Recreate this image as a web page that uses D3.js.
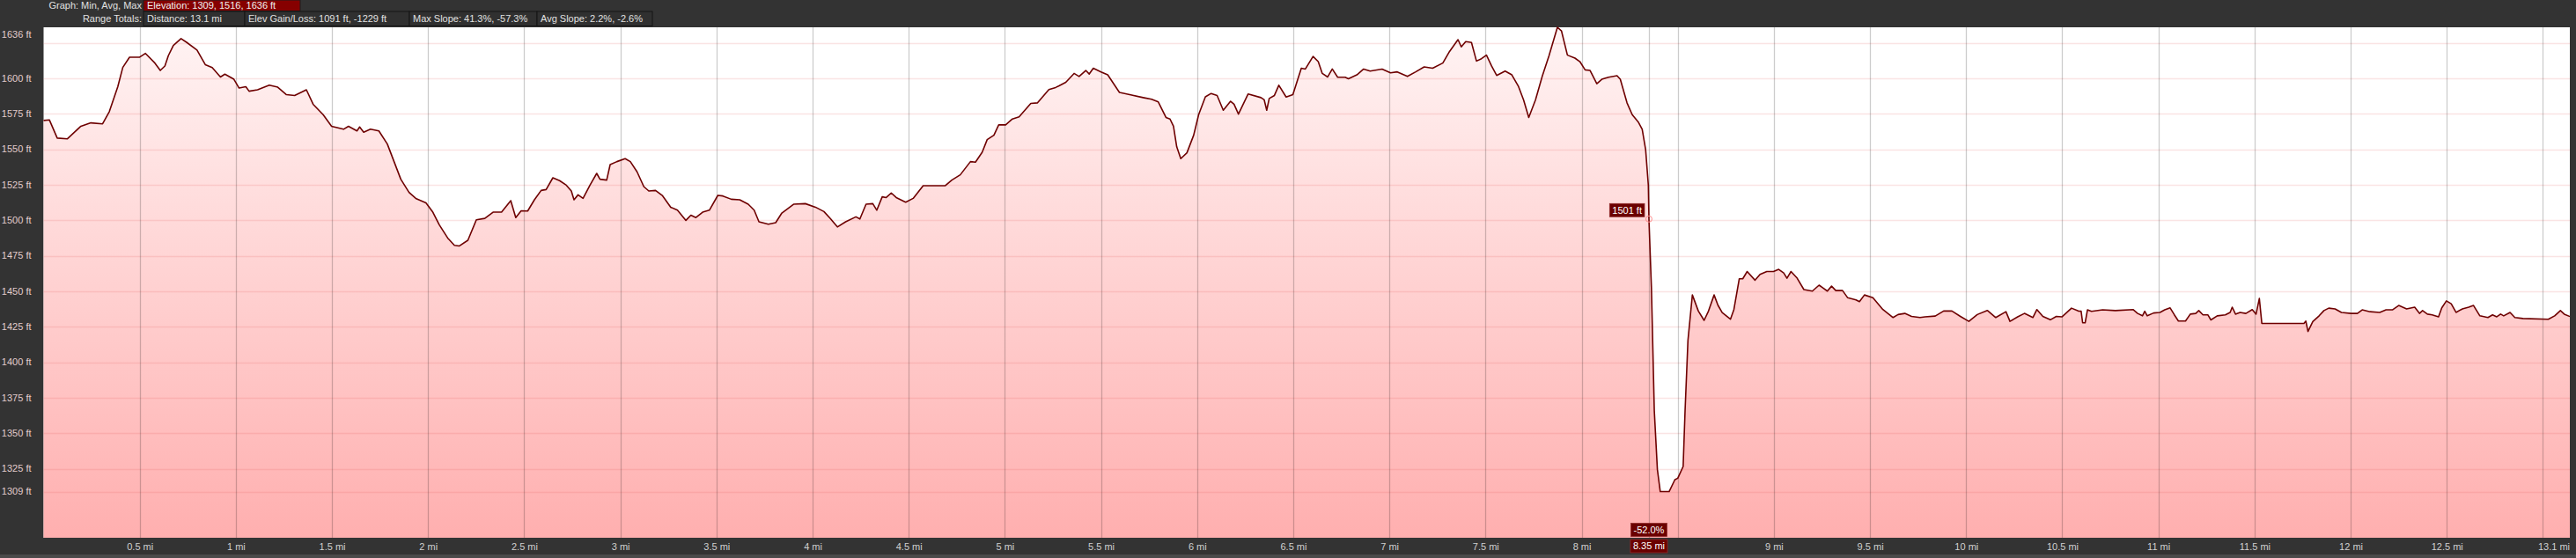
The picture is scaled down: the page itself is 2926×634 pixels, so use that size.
<!DOCTYPE html>
<html>
<head>
<meta charset="utf-8">
<script src="https://cdn.jsdelivr.net/npm/d3@7/dist/d3.min.js"></script>
<style>
  body { margin: 0; background: #333333; overflow: hidden; }
  svg text { font-family: "Liberation Sans", Arial, sans-serif; }
</style>
</head>
<body>
<div id="chart"></div>
<script>
// distance along the route (mi)
var distances = [
  0, 0.03, 0.071, 0.123, 0.194, 0.246, 0.307, 0.342, 0.386, 0.412, 0.447, 0.5, 0.53, 0.579, 0.607, 0.631, 0.649, 0.675, 0.715, 0.745,
  0.798, 0.841, 0.877, 0.92, 0.943, 0.99, 1.017, 1.052, 1.069, 1.113, 1.174, 1.218, 1.262, 1.306, 1.367, 1.402, 1.454, 1.498, 1.56, 1.586,
  1.63, 1.644, 1.665, 1.7, 1.744, 1.788, 1.823, 1.858, 1.901, 1.936, 1.989, 2.023, 2.058, 2.102, 2.137, 2.163, 2.207, 2.251, 2.295, 2.338,
  2.382, 2.43, 2.456, 2.484, 2.518, 2.553, 2.588, 2.614, 2.649, 2.684, 2.719, 2.745, 2.759, 2.78, 2.806, 2.842, 2.877, 2.894, 2.929, 2.947,
  2.982, 3.025, 3.052, 3.087, 3.122, 3.148, 3.183, 3.218, 3.262, 3.297, 3.341, 3.367, 3.393, 3.428, 3.463, 3.507, 3.533, 3.577, 3.621, 3.665,
  3.696, 3.721, 3.77, 3.808, 3.84, 3.901, 3.962, 4.015, 4.059, 4.094, 4.129, 4.172, 4.225, 4.246, 4.278, 4.313, 4.334, 4.362, 4.383, 4.409,
  4.435, 4.484, 4.523, 4.575, 4.689, 4.724, 4.768, 4.821, 4.847, 4.882, 4.908, 4.943, 4.968, 5.004, 5.039, 5.074, 5.135, 5.17, 5.229, 5.264,
  5.282, 5.317, 5.36, 5.386, 5.421, 5.439, 5.46, 5.5, 5.535, 5.596, 5.649, 5.719, 5.763, 5.798, 5.838, 5.859, 5.877, 5.894, 5.915, 5.947,
  5.982, 6.008, 6.043, 6.073, 6.104, 6.136, 6.174, 6.192, 6.215, 6.265, 6.332, 6.349, 6.362, 6.375, 6.402, 6.425, 6.463, 6.498, 6.542, 6.563,
  6.603, 6.63, 6.651, 6.679, 6.703, 6.731, 6.77, 6.787, 6.831, 6.866, 6.9, 6.962, 7.006, 7.041, 7.094, 7.137, 7.181, 7.225, 7.278, 7.313,
  7.357, 7.374, 7.397, 7.427, 7.453, 7.479, 7.505, 7.532, 7.558, 7.602, 7.637, 7.672, 7.698, 7.725, 7.76, 7.795, 7.83, 7.874, 7.895, 7.926,
  7.965, 7.991, 8.018, 8.044, 8.079, 8.105, 8.14, 8.184, 8.201, 8.236, 8.263, 8.294, 8.315, 8.333, 8.347, 8.35, 8.363, 8.378, 8.394, 8.409,
  8.455, 8.485, 8.5, 8.528, 8.538, 8.553, 8.576, 8.607, 8.637, 8.66, 8.689, 8.709, 8.731, 8.774, 8.792, 8.82, 8.838, 8.861, 8.902, 8.928,
  8.963, 8.998, 9.025, 9.051, 9.068, 9.089, 9.121, 9.156, 9.2, 9.235, 9.252, 9.278, 9.3, 9.322, 9.357, 9.384, 9.427, 9.445, 9.471, 9.515,
  9.567, 9.62, 9.646, 9.681, 9.716, 9.76, 9.786, 9.839, 9.883, 9.926, 9.97, 10.014, 10.058, 10.11, 10.154, 10.207, 10.228, 10.268, 10.303, 10.347,
  10.368, 10.399, 10.438, 10.469, 10.499, 10.548, 10.583, 10.598, 10.606, 10.619, 10.631, 10.652, 10.71, 10.776, 10.868, 10.892, 10.917, 10.929, 10.942, 10.975,
  11.008, 11.033, 11.061, 11.083, 11.104, 11.141, 11.166, 11.194, 11.21, 11.232, 11.257, 11.273, 11.306, 11.348, 11.373, 11.384, 11.401, 11.425, 11.455, 11.488,
  11.508, 11.525, 11.538, 11.757, 11.767, 11.778, 11.803, 11.836, 11.861, 11.886, 11.919, 11.952, 12.002, 12.035, 12.06, 12.101, 12.151, 12.184, 12.217, 12.25,
  12.291, 12.333, 12.358, 12.374, 12.399, 12.424, 12.457, 12.474, 12.498, 12.523, 12.548, 12.581, 12.614, 12.639, 12.672, 12.714, 12.738, 12.76, 12.78, 12.796,
  12.829, 12.854, 12.896, 13.028, 13.061, 13.091, 13.111, 13.14
];

// elevation (ft)
var elevations = [
  1570.4, 1570.8, 1558, 1557.4, 1566.3, 1568.7, 1568, 1576.6, 1594.2, 1607.7, 1614.9, 1615, 1617.6, 1610.8, 1605.6, 1608.7, 1616, 1623.2, 1628, 1625.3,
  1620, 1609.7, 1607.7, 1601, 1603, 1599.4, 1593.2, 1594.2, 1591, 1592, 1595.2, 1593.8, 1588.6, 1588, 1592, 1581.8, 1574.5, 1566.3, 1564.2, 1566.3,
  1563, 1565.8, 1562.1, 1564.2, 1563, 1553.8, 1541.4, 1529, 1519.7, 1515.5, 1512.4, 1506.2, 1496.9, 1487.6, 1482.4, 1482, 1486, 1500.4, 1501.4, 1505.8,
  1505.8, 1513.9, 1502, 1506.8, 1506.6, 1514.5, 1521.1, 1521.7, 1530, 1528, 1524.8, 1520.7, 1514.5, 1518, 1515.5, 1524.8, 1533.1, 1529, 1528.4, 1539.3,
  1541.4, 1543.5, 1541.4, 1534.2, 1523.8, 1520.7, 1521.1, 1517.6, 1509.3, 1507.2, 1500, 1503.7, 1502, 1505.8, 1507.2, 1517.6, 1517.2, 1514.9, 1514.5, 1511.4,
  1507.2, 1499, 1497.3, 1498.4, 1505.2, 1511.4, 1511.8, 1509.3, 1506.2, 1501, 1495.4, 1499, 1502.5, 1501, 1511.4, 1511.8, 1507.2, 1516.6, 1516.1, 1519.3,
  1516.1, 1512.8, 1515.5, 1524.4, 1524.4, 1528.4, 1532.1, 1541.4, 1541, 1548, 1556.9, 1560, 1567.3, 1567.3, 1571.4, 1572.9, 1582.4, 1582.8, 1592.1, 1593.6,
  1594.8, 1597.3, 1603.5, 1601.4, 1605.6, 1603.1, 1607.2, 1604.6, 1602.5, 1590.1, 1588.6, 1586.5, 1585.3, 1583.4, 1572.5, 1571.4, 1566.3, 1551.8, 1543.5, 1547.6,
  1560, 1574.5, 1587, 1589.4, 1588, 1577.6, 1583.9, 1581.8, 1574.9, 1589, 1586.5, 1584.9, 1577.6, 1585.9, 1588, 1595.2, 1586.9, 1588.6, 1607.2, 1606.6,
  1615.5, 1611.8, 1603.5, 1601, 1606.6, 1600.8, 1600.8, 1599.8, 1602.5, 1606.6, 1605.2, 1606.6, 1603.9, 1604.6, 1601.4, 1604.6, 1608.1, 1607.2, 1610.8, 1619,
  1627.3, 1622.2, 1625.9, 1625.3, 1612.2, 1613.9, 1616.4, 1608.7, 1602.1, 1605.2, 1602.5, 1594.2, 1584.9, 1572.5, 1584.9, 1601.4, 1615.9, 1636, 1633.5, 1616.4,
  1614.3, 1611.8, 1606, 1605.6, 1596.3, 1599.4, 1600.8, 1601.9, 1599.4, 1582.8, 1574.5, 1569.4, 1564.2, 1549.7, 1524.8, 1501, 1452.7, 1365.9, 1324.6, 1309,
  1309, 1317.4, 1318.4, 1326.7, 1365.9, 1415.5, 1447.5, 1436.2, 1429.6, 1436.2, 1447.5, 1440.3, 1435.1, 1430.4, 1437.2, 1458.9, 1458.9, 1464, 1457.9, 1462,
  1464, 1464, 1465.5, 1463, 1459.3, 1464, 1459.3, 1451.3, 1450.2, 1454.4, 1452.7, 1450.2, 1453.7, 1450.6, 1450.6, 1445.5, 1444, 1442.8, 1447.5, 1445.5,
  1437.2, 1431.6, 1433.7, 1434.5, 1432.4, 1431.6, 1432.1, 1432.6, 1436.2, 1436.2, 1432.4, 1428.9, 1433.7, 1436.6, 1431.6, 1435.7, 1428.9, 1432.1, 1434.5, 1431.6,
  1437.2, 1432.4, 1430, 1432.4, 1432.1, 1438.2, 1436.2, 1436, 1427.9, 1427.9, 1437, 1436, 1437, 1436.5, 1437.2, 1434.5, 1432.8, 1436, 1432.8, 1434.8,
  1435.2, 1437, 1438.4, 1433.5, 1429.1, 1429.1, 1434, 1434.5, 1436.5, 1433.5, 1433.5, 1429.9, 1432.8, 1433.5, 1435.2, 1438.9, 1434, 1435.2, 1434.5, 1437.2,
  1434, 1445, 1427.4, 1427.4, 1429.1, 1421.8, 1428.7, 1432.8, 1436.5, 1438.2, 1437.7, 1435.2, 1434.5, 1434.5, 1437, 1435.7, 1435.2, 1437, 1437, 1440.1,
  1437.7, 1438.9, 1434.5, 1436.5, 1434, 1433.5, 1432.1, 1438.4, 1443.3, 1441.3, 1435.2, 1437.7, 1438.9, 1440.1, 1432.8, 1431.6, 1433.5, 1432.1, 1434, 1432.8,
  1435.2, 1431.6, 1430.9, 1430.4, 1432.8, 1436.5, 1434, 1432.3
];

// axis ticks
var yLabelValues = [1309, 1325, 1350, 1375, 1400, 1425, 1450, 1475, 1500, 1525, 1550, 1575, 1600, 1636];
var yGridValues = [1309, 1325, 1350, 1375, 1400, 1425, 1450, 1475, 1500, 1525, 1550, 1575, 1600, 1625];
var xGridValues = [0.5, 1, 1.5, 2, 2.5, 3, 3.5, 4, 4.5, 5, 5.5, 6, 6.5, 7, 7.5, 8, 8.5, 9, 9.5, 10, 10.5, 11, 11.5, 12, 12.5, 13];
var xLabelValues = [0.5, 1, 1.5, 2, 2.5, 3, 3.5, 4, 4.5, 5, 5.5, 6, 6.5, 7, 7.5, 8, 9, 9.5, 10, 10.5, 11, 11.5, 12, 12.5];
var yDomain = [1276.5, 1636];
var xDomain = [0, 13.14];
var totalLabel = "13.1 mi";

// header texts
var headerLabels = ["Graph: Min, Avg, Max", "Range Totals:"];
var elevationSummary = "Elevation: 1309, 1516, 1636 ft";
var rangeTotals = ["Distance: 13.1 mi", "Elev Gain/Loss: 1091 ft, -1229 ft", "Max Slope: 41.3%, -57.3%", "Avg Slope: 2.2%, -2.6%"];

// cursor readout
var cursorMile = 8.35;
var cursorElev = 1501;
var cursorSlope = "-52.0%";

var svgWidth = 2926;
var svgHeight = 634;
var plot = { left: 49.5, right: 2919, top: 31, bottom: 611 };

var svg = d3.select("#chart").append("svg")
  .attr("width", svgWidth)
  .attr("height", svgHeight);

svg.append("rect").attr("width", svgWidth).attr("height", svgHeight).attr("fill", "#333333");
// lighter strip at the very bottom
svg.append("rect").attr("x", 0).attr("y", 630).attr("width", svgWidth).attr("height", 4).attr("fill", "#4a4a4a");

var x = d3.scaleLinear().domain(xDomain).range([plot.left, plot.right]);
var y = d3.scaleLinear().domain(yDomain).range([plot.bottom, plot.top]);

var data = distances.map(function (d, i) { return { mi: d, ft: elevations[i] }; });

// gradient for the area
var defs = svg.append("defs");
var grad = defs.append("linearGradient")
  .attr("id", "elevFill")
  .attr("gradientUnits", "userSpaceOnUse")
  .attr("x1", 0).attr("x2", 0)
  .attr("y1", plot.top).attr("y2", plot.bottom);
grad.append("stop").attr("offset", "0%").attr("stop-color", "#fff4f4");
grad.append("stop").attr("offset", "100%").attr("stop-color", "#ffafaf");

// plot background
svg.append("rect")
  .attr("x", plot.left).attr("y", plot.top)
  .attr("width", plot.right - plot.left).attr("height", plot.bottom - plot.top)
  .attr("fill", "#ffffff");

var area = d3.area()
  .x(function (d) { return x(d.mi); })
  .y0(plot.bottom)
  .y1(function (d) { return y(d.ft); });

svg.append("path").datum(data).attr("d", area).attr("fill", "url(#elevFill)");

// horizontal grid
svg.append("g").selectAll("line")
  .data(yGridValues)
  .enter().append("line")
  .attr("x1", plot.left).attr("x2", plot.right)
  .attr("y1", function (d) { return Math.round(y(d)) + 0.5; })
  .attr("y2", function (d) { return Math.round(y(d)) + 0.5; })
  .attr("stroke", "rgba(225,90,90,0.16)")
  .attr("stroke-width", 1.5);

// vertical grid
svg.append("g").selectAll("line")
  .data(xGridValues.concat([cursorMile]))
  .enter().append("line")
  .attr("x1", function (d) { return Math.round(x(d)) + 0.5; })
  .attr("x2", function (d) { return Math.round(x(d)) + 0.5; })
  .attr("y1", plot.top).attr("y2", plot.bottom)
  .attr("stroke", "rgba(0,0,0,0.2)")
  .attr("stroke-width", 1.3);

// the profile line
var line = d3.line()
  .x(function (d) { return x(d.mi); })
  .y(function (d) { return y(d.ft); });

svg.append("path").datum(data)
  .attr("d", line)
  .attr("fill", "none")
  .attr("stroke", "#6e0000")
  .attr("stroke-width", 1.6)
  .attr("stroke-linejoin", "round");

// y axis labels
var yAxis = d3.axisLeft(y)
  .tickValues(yLabelValues)
  .tickSize(0)
  .tickPadding(14)
  .tickFormat(function (d) { return d + " ft"; });

var yAxisG = svg.append("g")
  .attr("transform", "translate(" + plot.left + ",0)")
  .call(yAxis);
yAxisG.select(".domain").remove();
yAxisG.selectAll("text")
  .attr("fill", "#e2cccc")
  .style("font-size", "11px")
  .style("font-family", "'Liberation Sans', Arial, sans-serif");
// keep the top label inside the frame
yAxisG.selectAll(".tick")
  .attr("transform", function (d) { return "translate(0," + Math.max(y(d), plot.top + 8) + ")"; });

// x axis labels
var xAxis = d3.axisBottom(x)
  .tickValues(xLabelValues)
  .tickSize(0)
  .tickFormat(function (d) { return d + " mi"; });

var xAxisG = svg.append("g")
  .attr("transform", "translate(0," + plot.bottom + ")")
  .call(xAxis);
xAxisG.select(".domain").remove();
xAxisG.selectAll("text")
  .attr("y", 10)
  .attr("dy", "0.35em")
  .attr("fill", "#d0d0d0")
  .style("font-size", "11px")
  .style("font-family", "'Liberation Sans', Arial, sans-serif");

svg.append("text")
  .attr("x", plot.right)
  .attr("y", plot.bottom + 10)
  .attr("dy", "0.35em")
  .attr("text-anchor", "end")
  .attr("fill", "#d0d0d0")
  .style("font-size", "11px")
  .text(totalLabel);

// cursor readout
var cx = x(cursorMile);
var cy = y(cursorElev);

svg.append("circle")
  .attr("cx", cx).attr("cy", cy).attr("r", 3.5)
  .attr("fill", "none")
  .attr("stroke", "#ff8a8a")
  .attr("stroke-width", 1);

function tag(text, anchorX, centerY, align) {
  var g = svg.append("g");
  var t = g.append("text")
    .attr("y", centerY)
    .attr("dy", "0.35em")
    .attr("fill", "#ffffff")
    .style("font-size", "11px")
    .text(text);
  var w = t.node().getComputedTextLength() + 6;
  var left = align === "end" ? anchorX - w : anchorX - w / 2;
  t.attr("x", left + 3);
  g.insert("rect", "text")
    .attr("x", left).attr("y", centerY - 7.5)
    .attr("width", w).attr("height", 15)
    .attr("fill", "#6b0000")
    .attr("stroke", "#8f2a2a")
    .attr("stroke-width", 0.8);
}

tag(cursorElev + " ft", cx - 5, cy - 10, "end");
tag(cursorSlope, cx, plot.bottom - 9, "middle");
tag(cursorMile + " mi", cx, plot.bottom + 9.5, "middle");

// header
var labelRight = 161;
var colEdges = [163, 278, 465, 610, 741];

svg.append("text")
  .attr("x", labelRight).attr("y", 6.5).attr("dy", "0.35em")
  .attr("text-anchor", "end").attr("fill", "#e0e0e0")
  .style("font-size", "11px")
  .text(headerLabels[0]);

svg.append("rect")
  .attr("x", colEdges[0]).attr("y", 0)
  .attr("width", 178).attr("height", 12.5)
  .attr("fill", "#860000")
  .attr("stroke", "#1e1e1e").attr("stroke-width", 1);

svg.append("text")
  .attr("x", colEdges[0] + 4).attr("y", 6.5).attr("dy", "0.35em")
  .attr("fill", "#f0f0f0")
  .style("font-size", "11px")
  .text(elevationSummary);

svg.append("text")
  .attr("x", labelRight).attr("y", 21.5).attr("dy", "0.35em")
  .attr("text-anchor", "end").attr("fill", "#e0e0e0")
  .style("font-size", "11px")
  .text(headerLabels[1]);

svg.append("g").selectAll("rect")
  .data(rangeTotals)
  .enter().append("rect")
  .attr("x", function (d, i) { return colEdges[i]; })
  .attr("y", 13)
  .attr("width", function (d, i) { return colEdges[i + 1] - colEdges[i]; })
  .attr("height", 16.5)
  .attr("fill", "#303030")
  .attr("stroke", "#141414").attr("stroke-width", 1);

svg.append("g").selectAll("text")
  .data(rangeTotals)
  .enter().append("text")
  .attr("x", function (d, i) { return colEdges[i] + 4; })
  .attr("y", 21.5).attr("dy", "0.35em")
  .attr("fill", "#e0e0e0")
  .style("font-size", "11px")
  .text(function (d) { return d; });
</script>
</body>
</html>
